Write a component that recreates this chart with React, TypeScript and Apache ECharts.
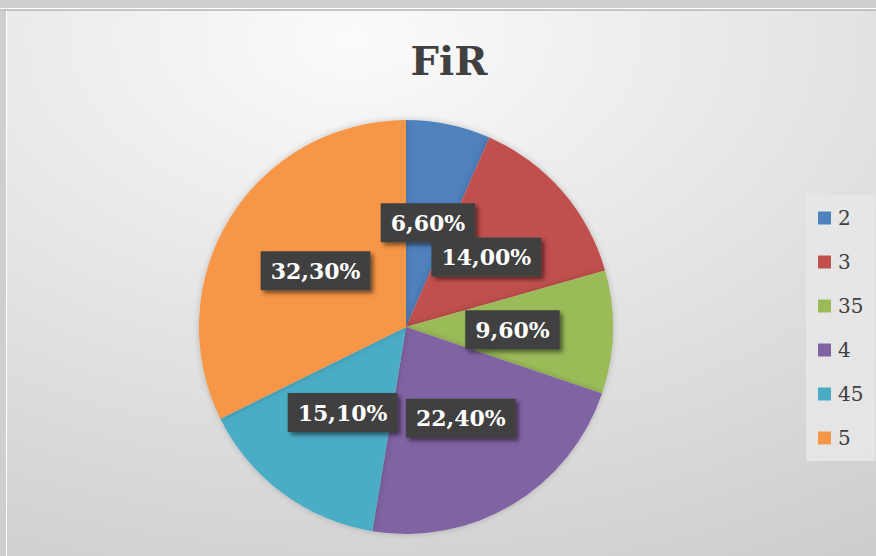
import React, { useEffect, useRef } from "react";
import * as echarts from "echarts";

const categories = ["2", "3", "35", "4", "45", "5"];
const values = [6.6, 14.0, 9.6, 22.4, 15.1, 32.3];
const colors = ["#4F81BD", "#C0504D", "#9BBB59", "#8064A2", "#4BACC6", "#F79646"];
const titleText = "FiR";

export default function App() {
  const ref = useRef<HTMLDivElement>(null);
  useEffect(() => {
    document.body.style.margin = "0";
    const chart = echarts.init(ref.current!, null, { renderer: "svg" });
    chart.setOption({
      animation: false,
      backgroundColor: "#cfcfcf",
      graphic: [
        {
          type: "rect",
          shape: { x: 7, y: 11, width: 869, height: 545 },
          style: {
            fill: {
              type: "radial",
              x: 0.4,
              y: 0.05,
              r: 1.2,
              colorStops: [
                { offset: 0, color: "#fbfbfb" },
                { offset: 1, color: "#c9c9c9" },
              ],
            },
          },
          z: -10,
        },
        { type: "rect", shape: { x: 0, y: 8, width: 876, height: 1 }, style: { fill: "#ffffff" }, z: -9 },
        { type: "rect", shape: { x: 0, y: 9, width: 876, height: 2 }, style: { fill: "#c4c4c4" }, z: -9 },
        { type: "rect", shape: { x: 6, y: 11, width: 1, height: 545 }, style: { fill: "#ffffff" }, z: -9 },
      ],
      title: {
        text: titleText,
        left: 449,
        textAlign: "center",
        top: 40,
        padding: 0,
        textStyle: {
          fontFamily: "DejaVu Serif",
          fontWeight: "bold",
          fontSize: 40,
          color: "#404040",
        },
      },
      legend: {
        orient: "vertical",
        left: 806,
        top: 195,
        padding: [13, 12, 13, 12],
        itemWidth: 13,
        itemHeight: 13,
        itemGap: 24,
        icon: "rect",
        backgroundColor: "rgba(232,232,232,0.85)",
        textStyle: {
          fontFamily: "DejaVu Serif",
          fontSize: 20,
          lineHeight: 20,
          color: "#404040",
          padding: [0, 0, 0, 2],
        },
        data: categories,
      },
      series: [
        {
          type: "pie",
          center: [406, 327],
          radius: 207,
          startAngle: 90,
          clockwise: true,
          avoidLabelOverlap: false,
          labelLayout: { hideOverlap: false },
          itemStyle: {
            shadowBlur: 6,
            shadowColor: "rgba(0,0,0,0.2)",
          },
          label: {
            show: true,
            position: "inside",
            formatter: (p: any) => p.value.toFixed(2).replace(".", ",") + "%",
            fontFamily: "DejaVu Serif",
            fontWeight: "bold",
            fontSize: 22,
            lineHeight: 24,
            color: "#ffffff",
            backgroundColor: "#404040",
            padding: [8, 10, 7, 10],
            shadowColor: "rgba(0,0,0,0.5)",
            shadowBlur: 4,
            shadowOffsetX: 3,
            shadowOffsetY: 3,
          },
          labelLine: { show: false },
          emphasis: { disabled: true },
          data: categories.map((c, i) => ({
            name: c,
            value: values[i],
            itemStyle: { color: colors[i] },
          })),
        },
      ],
    });
    return () => chart.dispose();
  }, []);
  return <div ref={ref} style={{ width: 876, height: 556 }} />;
}
